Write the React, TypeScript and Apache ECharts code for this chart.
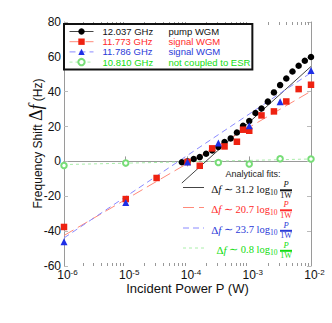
import React, { useEffect, useRef } from 'react';
import * as echarts from 'echarts';

// ---------- data ----------
const seriesNames = ['12.037 GHz', '11.773 GHz', '11.786 GHz', '10.810 GHz'];
const seriesLabels = ['pump WGM', 'signal WGM', 'signal WGM', 'not coupled to ESR'];

const pumpP = [8.1e-5, 1e-4, 1.26e-4, 1.58e-4, 2e-4, 2.51e-4, 3.16e-4, 3.98e-4, 5.01e-4, 6.31e-4, 7.94e-4, 1e-3, 1.26e-3, 1.58e-3, 2e-3, 2.51e-3, 3.16e-3, 3.98e-3, 5.01e-3, 6.31e-3, 7.94e-3, 1e-2];
const pumpDf = [-0.5, 0.0, 1.4, 2.5, 4.4, 6.3, 8.3, 11.1, 13.2, 16.6, 20.5, 23.2, 27.8, 30.4, 34.3, 39.6, 43.8, 47.6, 51.6, 54.9, 57.8, 59.9];

const signalRedP = [1e-6, 1e-5, 3.16e-5, 1e-4, 1.58e-4, 2.51e-4, 3.98e-4, 6.31e-4, 7.94e-4, 1e-3, 1.58e-3, 2.51e-3, 3.98e-3, 6.31e-3, 1e-2];
const signalRedDf = [-37.6, -21.6, -9.5, -0.3, -2.5, 7.5, 8.6, 11.3, 18.2, 17.6, 26.4, 28.7, 34.4, 41.5, 44.0];

const signalBlueP = [1e-6, 1e-5, 1e-4, 3.16e-4, 1e-3, 3.16e-3, 1e-2];
const signalBlueDf = [-46.1, -23.5, -0.3, 10.6, 20.5, 34.3, 52.2];

const uncoupledP = [1e-6, 1e-5, 3.16e-4, 1e-3, 3.16e-3, 1e-2];
const uncoupledDf = [-2.3, -0.9, -0.6, -1.5, 1.5, 1.4];

// analytical fit lines (end points)
const fitBlackP = [8.1e-5, 1e-2];
const fitBlackDf = [-12.4, 54.5];
const fitRedP = [1e-6, 1e-2];
const fitRedDf = [-42.5, 40.3];
const fitBlueP = [1e-6, 1e-2];
const fitBlueDf = [-43.9, 50.9];
const fitGreenP = [1e-6, 1e-2];
const fitGreenDf = [-1.8, 1.4];
const fitSlopes = ['31.2', '20.7', '23.7', '0.8'];

// axis
const xMin = 1e-6;
const xMax = 1e-2;
const yMin = -60;
const yMax = 80;
const yStep = 20;
const minorTickP: number[] = [];
for (let e = -6; e <= -3; e++) {
  for (let k = 2; k <= 9; k++) minorTickP.push(k * Math.pow(10, e));
}

// ---------- styles ----------
const markerColors = ['#000000', '#ee2211', '#1f2fe6', '#77dd77'];
const textColors = ['#111111', '#ff2a2a', '#2a3ad8', '#11dd11'];
const fitColors = ['#444444', '#ff8a7a', '#8a8aff', '#aaeeaa'];
const fitDash: any[] = ['solid', [11, 5], [6, 4], [3, 3]];
const symbols = ['circle', 'rect', 'triangle', 'emptyCircle'];
const symbolSizes = [6.5, 6.5, 7, 5.5];

const SANS = 'Liberation Sans, Arial, Helvetica, sans-serif';
const SERIF = 'Liberation Serif, Times New Roman, serif';

const zip = (a: number[], b: number[]) => a.map((v, i) => [v, b[i]]);

export default function App() {
  const ref = useRef<HTMLDivElement>(null);

  useEffect(() => {
    if (!ref.current) return;
    const chart = echarts.init(ref.current, undefined, { renderer: 'svg' });

    const dataSets = [
      zip(pumpP, pumpDf),
      zip(signalRedP, signalRedDf),
      zip(signalBlueP, signalBlueDf),
      zip(uncoupledP, uncoupledDf),
    ];
    const fitSets = [
      zip(fitBlackP, fitBlackDf),
      zip(fitRedP, fitRedDf),
      zip(fitBlueP, fitBlueDf),
      zip(fitGreenP, fitGreenDf),
    ];

    const legendRich: any = {};
    seriesNames.forEach((_, i) => {
      legendRich['a' + i] = {
        color: textColors[i],
        fontSize: 9.5,
        fontFamily: SANS,
        width: 66,
        padding: [0, 0, 0, 4],
        lineHeight: 10,
      };
      legendRich['b' + i] = {
        color: textColors[i],
        fontSize: 9.5,
        fontFamily: SANS,
        lineHeight: 10,
      };
    });

    const fitSeries = fitSets.map((d, i) => ({
      name: 'fit ' + i,
      type: 'line',
      data: d,
      showSymbol: false,
      symbol: 'none',
      silent: true,
      z: 1,
      lineStyle: { color: fitColors[i], width: 1, type: fitDash[i] },
    }));

    const dataSeries = dataSets.map((d, i) => ({
      name: seriesNames[i],
      type: 'line',
      data: d,
      symbol: symbols[i],
      symbolSize: symbolSizes[i],
      showSymbol: true,
      z: 3,
      lineStyle: { width: 0, opacity: 0 },
      itemStyle:
        i === 3
          ? { color: markerColors[i], borderColor: markerColors[i], borderWidth: 1 }
          : { color: markerColors[i], borderWidth: 0 },
    }));

    const minorTickSeries = {
      name: 'minor ticks',
      type: 'custom',
      silent: true,
      clip: false,
      data: minorTickP.map((p) => [p, 0]),
      encode: { x: 0, y: 1 },
      renderItem: (params: any, api: any) => {
        const x = Math.round(api.coord([api.value(0), 0])[0]) + 0.5;
        const cs = params.coordSys;
        const yb = cs.y + cs.height;
        const yt = cs.y;
        return {
          type: 'group',
          children: [
            { type: 'line', shape: { x1: x, y1: yb, x2: x, y2: yb - 3 }, style: { stroke: '#999', lineWidth: 1 } },
            { type: 'line', shape: { x1: x, y1: yt, x2: x, y2: yt + 3 }, style: { stroke: '#999', lineWidth: 1 } },
          ],
        };
      },
    };

    // y-axis title and annotation: analytical fits
    const rowY = [189, 209, 229.5, 249.5];
    const graphics: any[] = [
      {
        type: 'text',
        x: 36,
        y: 143.5,
        rotation: Math.PI / 2,
        style: {
          text: '{a|Frequency Shift }{d|Δ}{f|f}{a| (Hz)}',
          align: 'center',
          verticalAlign: 'middle',
          fill: '#111',
          rich: {
            a: { fontSize: 12, fontFamily: SANS, fill: '#111', padding: [4, 0, 0, 0] },
            d: { fontSize: 18, fontFamily: SERIF, fill: '#111' },
            f: { fontSize: 18, fontFamily: SERIF, fontStyle: 'italic', fill: '#111' },
          },
        },
      },
      {
        type: 'text',
        x: 253,
        y: 173.5,
        style: { text: 'Analytical fits:', fontSize: 9, fontFamily: SANS, fill: '#222', align: 'center', verticalAlign: 'middle' },
      },
    ];
    fitSlopes.forEach((s, i) => {
      const cy = rowY[i];
      const c = textColors[i];
      graphics.push({
        type: 'line',
        shape: { x1: 183, y1: cy - 1.5, x2: 204, y2: cy - 1.5 },
        style: { stroke: fitColors[i], lineWidth: 1, lineDash: fitDash[i] === 'solid' ? null : fitDash[i] },
      });
      graphics.push({
        type: 'text',
        x: 277.5,
        y: cy,
        style: {
          text: '{d|Δ}{f|f}{t| ∼ ' + s + ' }{l|log}{sub|10}',
          align: 'right',
          verticalAlign: 'middle',
          fill: c,
          rich: {
            d: { fontFamily: SERIF, fontSize: 11, fill: c },
            f: { fontFamily: SERIF, fontSize: 11, fontStyle: 'italic', fill: c },
            t: { fontFamily: SERIF, fontSize: 10.5, fill: c },
            l: { fontFamily: SERIF, fontSize: 10.5, fill: c },
            sub: { fontFamily: SERIF, fontSize: 7.5, fill: c, padding: [6, 0, 0, 0] },
          },
        },
      });
      graphics.push({
        type: 'text',
        x: 286,
        y: cy - 5,
        style: { text: 'P', fontFamily: SERIF, fontStyle: 'italic', fontSize: 8.5, fill: c, align: 'center', verticalAlign: 'middle' },
      });
      graphics.push({
        type: 'rect',
        shape: { x: 280, y: cy + 0.3, width: 12, height: 2 },
        style: { fill: c },
      });
      graphics.push({
        type: 'text',
        x: 286,
        y: cy + 6.2,
        style: { text: '1W', fontFamily: SERIF, fontSize: 8, fill: c, align: 'center', verticalAlign: 'middle' },
      });
    });

    const axisGray = '#9a9a9a';

    chart.setOption({
      animation: false,
      backgroundColor: '#ffffff',
      textStyle: { fontFamily: SANS },
      grid: { left: 64, top: 22, width: 247, height: 244, containLabel: false },
      legend: {
        data: seriesNames.map((n, i) => ({
          name: n,
          itemStyle: { color: markerColors[i], opacity: 1 },
          lineStyle: { color: fitColors[i], width: 1, type: fitDash[i], opacity: 1 },
        })),
        orient: 'vertical',
        left: 64,
        top: 24,
        padding: [2.5, 2, 2.5, 5],
        itemWidth: 24,
        itemHeight: 8,
        itemGap: 0.2,
        backgroundColor: '#ffffff',
        borderColor: '#111111',
        borderWidth: 2,
        selectedMode: false,
        textStyle: { fontSize: 9.5, lineHeight: 10, rich: legendRich },
        formatter: (name: string) => {
          const i = seriesNames.indexOf(name);
          return '{a' + i + '|' + name + '}{b' + i + '|' + seriesLabels[i] + '}';
        },
      },
      xAxis: [
        {
          type: 'log',
          logBase: 10,
          min: xMin,
          max: xMax,
          position: 'bottom',
          name: 'Incident Power P (W)',
          nameLocation: 'middle',
          nameGap: 16,
          nameMoveOverlap: false,
          nameTextStyle: { fontSize: 13, lineHeight: 13, color: '#111', fontFamily: SANS },
          axisLine: { show: true, lineStyle: { color: axisGray, width: 1 } },
          axisTick: { show: true, inside: true, length: 5, lineStyle: { color: axisGray } },
          splitLine: { show: false },
          minorTick: { show: false },
          axisLabel: {
            margin: 3,
            color: '#111',
            formatter: (v: number) => '{b|10}{s|' + Math.round(Math.log10(v)) + '}',
            rich: {
              b: { fontSize: 12, lineHeight: 12, fontFamily: SANS, color: '#111', padding: [0, 0, 0, 7] },
              s: { fontSize: 8, lineHeight: 8, fontFamily: SANS, color: '#111', padding: [0, 0, 5, 0] },
            },
          },
        },
        {
          type: 'log',
          logBase: 10,
          min: xMin,
          max: xMax,
          position: 'top',
          axisLine: { show: true, lineStyle: { color: axisGray, width: 1 } },
          axisTick: { show: true, inside: true, length: 5, lineStyle: { color: axisGray } },
          axisLabel: { show: false },
          splitLine: { show: false },
        },
      ],
      yAxis: [
        {
          type: 'value',
          min: yMin,
          max: yMax,
          interval: yStep,
          position: 'left',
          axisLine: { show: true, lineStyle: { color: axisGray, width: 1 } },
          axisTick: { show: true, inside: true, length: 4, lineStyle: { color: '#bbb' } },
          splitLine: { show: false },
          axisLabel: { fontSize: 12, lineHeight: 12, color: '#111', margin: 3, fontFamily: SANS },
        },
        {
          type: 'value',
          min: yMin,
          max: yMax,
          interval: yStep,
          position: 'right',
          axisLine: { show: true, lineStyle: { color: axisGray, width: 1 } },
          axisTick: { show: true, inside: true, length: 4, lineStyle: { color: '#bbb' } },
          axisLabel: { show: false },
          splitLine: { show: false },
        },
      ],
      series: [...fitSeries, ...dataSeries, minorTickSeries],
      graphic: graphics,
    } as any);

    return () => chart.dispose();
  }, []);

  return (
    <div
      ref={ref}
      style={{ position: 'absolute', left: 0, top: 0, width: 332, height: 323 }}
    />
  );
}
